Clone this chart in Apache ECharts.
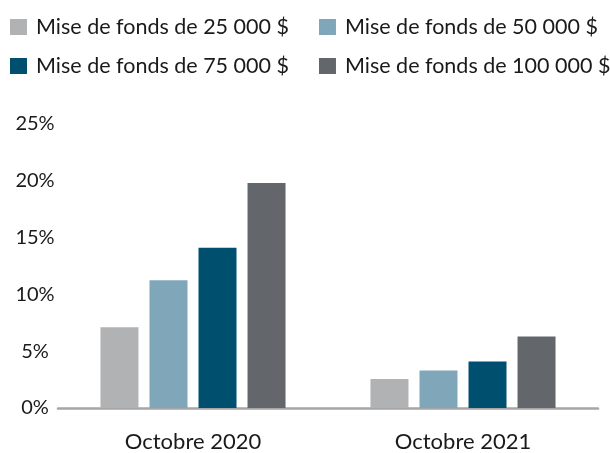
<!DOCTYPE html>
<html>
<head>
<meta charset="utf-8">
<script src="https://cdn.jsdelivr.net/npm/echarts@6/dist/echarts.min.js"></script>
<style>
  html, body { margin: 0; padding: 0; background: #fff; }
  #chart { width: 610px; height: 453px; }
</style>
</head>
<body>
<div id="chart"></div>
<script>
// données (%)
const categories = ['Octobre 2020', 'Octobre 2021']
const seriesNames = [
  'Mise de fonds de 25 000 $',
  'Mise de fonds de 50 000 $',
  'Mise de fonds de 75 000 $',
  'Mise de fonds de 100 000 $'
]
const mise25 = [7.1, 2.55]
const mise50 = [11.25, 3.3]
const mise75 = [14.1, 4.1]
const mise100 = [19.8, 6.3]
const yTicks = [0, 5, 10, 15, 20, 25]

const colors = ['#b1b2b4', '#7fa7b9', '#004f6e', '#63666a']
const values = [mise25, mise50, mise75, mise100]
const font = 'Lato, "Open Sans", sans-serif'

const chart = echarts.init(document.getElementById('chart'))

// deux légendes, une par ligne, pour garder les colonnes alignées
const legendBase = {
  left: 10,
  width: 640,
  orient: 'horizontal',
  icon: 'rect',
  itemWidth: 17,
  itemHeight: 16,
  itemGap: 30,
  padding: 0,
  textStyle: { fontFamily: font, fontSize: 21.5, color: '#1a1a1a', padding: [0, 0, 0, 4] }
}

chart.setOption({
  animation: false,
  color: colors,
  legend: [
    { ...legendBase, top: 16, data: seriesNames.slice(0, 2) },
    { ...legendBase, top: 55, data: seriesNames.slice(2, 4) }
  ],
  grid: { left: 58, right: 12, top: 124, bottom: 44 },
  xAxis: {
    type: 'category',
    data: categories,
    axisLine: { lineStyle: { color: '#a6a6a6', width: 2.5 } },
    axisTick: { show: false },
    axisLabel: { fontFamily: font, fontSize: 22, color: '#1a1a1a', margin: 23 }
  },
  yAxis: {
    type: 'value',
    min: yTicks[0],
    max: yTicks[yTicks.length - 1],
    interval: 5,
    splitLine: { show: false },
    axisLine: { show: false },
    axisTick: { show: false },
    axisLabel: {
      formatter: '{value}%',
      align: 'center',
      margin: 23,
      fontFamily: font, fontSize: 20, color: '#1a1a1a'
    }
  },
  series: seriesNames.map((name, i) => ({
    name,
    type: 'bar',
    data: values[i],
    barWidth: 38,
    barGap: '29%',
    itemStyle: { color: colors[i] }
  }))
})
</script>
</body>
</html>
